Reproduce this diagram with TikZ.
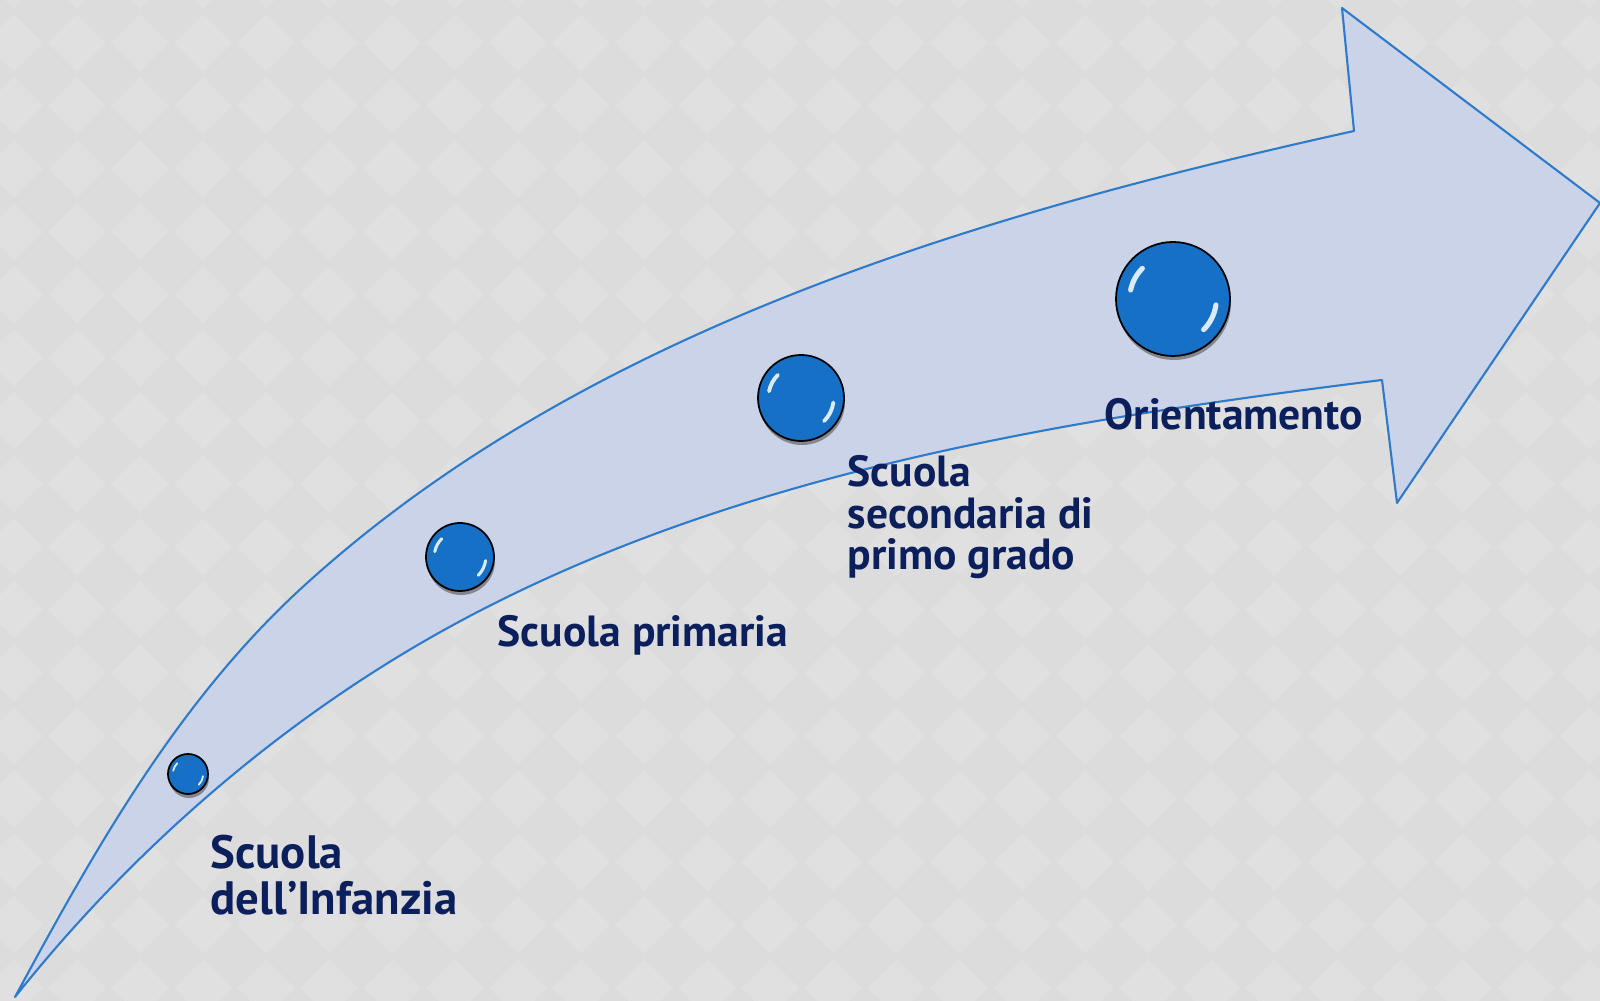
\documentclass[tikz,border=0pt]{standalone}
\usepackage{fontspec}
\setmainfont{PT Sans}
\usepackage{tikz}
\usetikzlibrary{positioning}
\definecolor{bgdark}{HTML}{DCDCDC}
\definecolor{bglight}{HTML}{E0E0E0}
\definecolor{pathfill}{HTML}{CAD3E8}
\definecolor{pathline}{HTML}{2F7BCB}
\definecolor{ballblue}{HTML}{1570C6}
\definecolor{ballrim}{HTML}{3C8AD4}
\definecolor{navy}{HTML}{0B1F5C}
\pgfdeclareradialshading{ballshade}{\pgfpoint{0bp}{0bp}}{color(0bp)=(ballblue); color(32bp)=(ballblue); color(46bp)=(ballrim); color(50bp)=(ballrim)}
\tikzset{
  tile/.style={fill=bglight},
  road/.style={fill=pathfill, draw=pathline, line width=0.6pt, line join=round},
  ball/.style={circle, inner sep=0pt, draw=black, line width=0.5pt, shade, shading=ballshade},
  ballshadow/.style={fill=black!60, opacity=0.7},
  glint/.style={draw=white, line cap=round, opacity=0.85},
  lab/.style={text=navy, inner sep=0pt, anchor=base west, align=left},
}

\begin{document}
\begin{tikzpicture}[x=0.01cm, y=-0.01cm]
  \useasboundingbox (0,0) rectangle (1600,1001);
  \clip (0,0) rectangle (1600,1001);

  % background tiles
  \fill[bgdark] (0,0) rectangle (1600,1001);
  \foreach \i in {-1,...,25}
    \foreach \j in {-1,...,16}
      \fill[tile] (48+63*\i,43+63*\j) -- ++(29,-29) -- ++(29,29) -- ++(-29,29) -- cycle;

  % the curved arrow
  \coordinate (tail) at (15,997);
  \coordinate (upmid) at (306,584);
  \coordinate (shoulder) at (1354,131);
  \coordinate (headtop) at (1342,8);
  \coordinate (tip) at (1600,203);
  \coordinate (headbot) at (1397,503);
  \coordinate (neck) at (1382,380);
  \coordinate (lowmid) at (444,630);
  \draw[road] (tail) .. controls (96,847) and (180,698) .. (upmid)
    .. controls (587,329) and (983,213) .. (shoulder)
    -- (headtop) -- (tip) -- (headbot) -- (neck)
    .. controls (1061,420) and (727,473) .. (lowmid)
    .. controls (280,721) and (132,850) .. (tail) -- cycle;

  % balls along the way
  \foreach \n/\x/\y/\r in {b1/188/774/20, b2/460/557/34, b3/801/398/43, b4/1173/299/57} {
    \fill[ballshadow] (\x+1,\y+4) circle[radius=\r];
    \node[ball, minimum size={2*\r*0.01cm}] (\n) at (\x,\y) {};
    \draw[glint, line width={0.09*\r*0.01cm}] (\n.center) ++(192:0.76*\r)
      arc[start angle=192, end angle=225, radius=0.76*\r];
    \draw[glint, line width={0.09*\r*0.01cm}] (\n.center) ++(8:0.76*\r)
      arc[start angle=8, end angle=45, radius=0.76*\r];
  }

  % labels
  \node[lab, font=\fontsize{13.3}{13.3}\selectfont\bfseries] (infanzia) at (210,915) {Scuola\\dell'Infanzia};
  \node[lab, font=\fontsize{12.4}{13.1}\selectfont\bfseries] (primaria) at (497,647) {Scuola primaria};
  \node[lab, font=\fontsize{12.4}{11.8}\selectfont\bfseries] (secondaria) at (847,570) {Scuola\\secondaria di\\primo grado};
  \node[lab, font=\fontsize{12.4}{13.1}\selectfont\bfseries] (orientamento) at (1104,430) {Orientamento};
\end{tikzpicture}
\end{document}
